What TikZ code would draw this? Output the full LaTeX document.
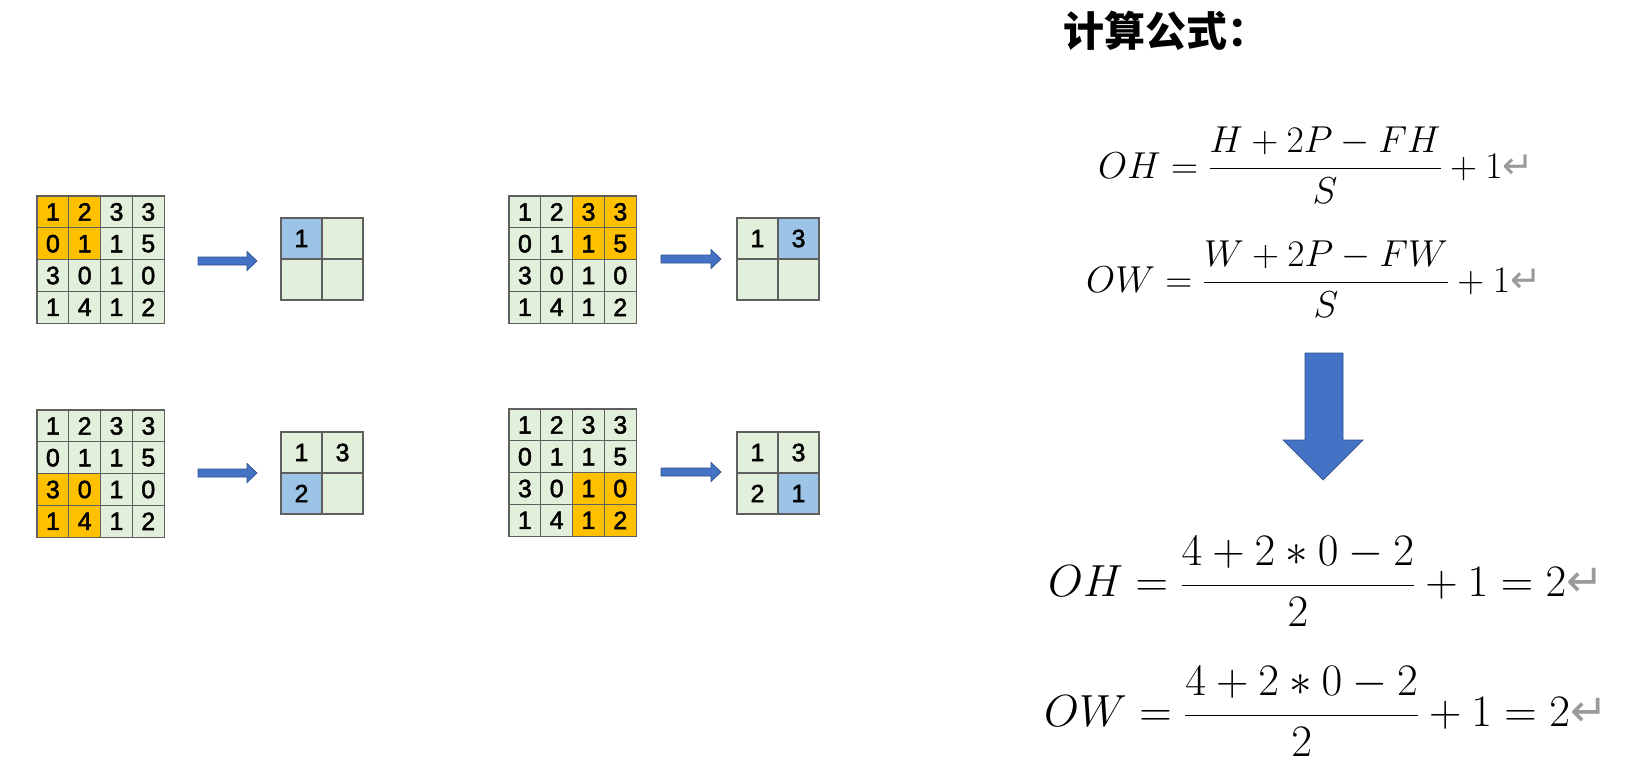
\RequirePackage{fix-cm}
\documentclass[tikz,border=0pt]{standalone}
\usepackage{fontspec}
\newfontfamily\numfont{Liberation Sans}[FakeBold=2]
\newfontfamily\cjk{Noto Sans CJK SC}
\newfontfamily\arrowfont{DejaVu Sans}
\definecolor{cellgreen}{HTML}{E2EFDA}
\definecolor{hlorange}{HTML}{FFC000}
\definecolor{cellblue}{HTML}{9DC3E6}
\definecolor{cellline}{HTML}{5F5F5F}
\definecolor{arrowblue}{HTML}{4472C4}
\definecolor{arrowedge}{HTML}{2F528F}
\definecolor{retgray}{HTML}{9A9A9A}
\tikzset{
  cell/.style={draw=cellline, line width=1.3pt, minimum size=#1, inner sep=0pt,
    font=\numfont\fontsize{25}{25}\selectfont, anchor=center},
  blockarrow/.style={fill=arrowblue, draw=arrowedge, line width=0.7pt},
  formula/.style={anchor=base west, inner sep=0pt}
}
\newcommand\retm{{\color{retgray}\arrowfont ↵}}
\newcommand\ingrid[5]{%
  \foreach \r/\vals in {1/{1,2,3,3},2/{0,1,1,5},3/{3,0,1,0},4/{1,4,1,2}}{
    \foreach \v [count=\c] in \vals {
      \pgfmathtruncatemacro\hl{(\r>#4)*(\r<#4+3)*(\c>#5)*(\c<#5+3)}
      \ifnum\hl=1 \def\fc{hlorange}\else\def\fc{cellgreen}\fi
      \node[cell=31.8pt, fill=\fc] (#1-\r-\c) at ({#2+(\c-0.5)*31.8},{#3+(\r-0.5)*31.8}) {\v};
    }
  }
}
\newcommand\outgrid[5]{%
  \foreach \v [count=\k] in {#4} {
    \pgfmathtruncatemacro\r{int((\k-1)/2)+1}
    \pgfmathtruncatemacro\c{mod(\k-1,2)+1}
    \ifnum\k=#5 \def\fc{cellblue}\else\def\fc{cellgreen}\fi
    \node[cell=41pt, fill=\fc] (#1-\r-\c) at ({#2+(\c-0.5)*41},{#3+(\r-0.5)*41}) {\v};
  }
}
\newcommand\smallarrow[3]{%
  \fill[blockarrow] (#1,#3-4) -- (#2-10,#3-4) -- (#2-10,#3-9.5) -- (#2,#3)
    -- (#2-10,#3+9.5) -- (#2-10,#3+4) -- (#1,#3+4) -- cycle;
}
\begin{document}
\begin{tikzpicture}[x=1pt,y=-1pt]
\fill[white] (0,0) rectangle (1648,781);
\useasboundingbox (0,0) rectangle (1648,781);

% input grids
\ingrid{A}{37}{196}{0}{0}
\ingrid{B}{509}{196}{0}{2}
\ingrid{C}{37}{410}{2}{0}
\ingrid{D}{509}{409}{2}{2}

% output grids
\outgrid{a}{281}{218}{1,{},{},{}}{1}
\outgrid{b}{737}{218}{1,3,{},{}}{2}
\outgrid{c}{281}{432}{1,3,2,{}}{3}
\outgrid{d}{737}{432}{1,3,2,1}{4}

% small arrows
\smallarrow{198}{257}{261}
\smallarrow{661}{721}{259}
\smallarrow{198}{257}{473}
\smallarrow{661}{721}{472}

% title
\node[anchor=base west, inner sep=0pt, font=\cjk\bfseries\fontsize{41}{41}\selectfont] (title) at (1063,47) {计算公式：};

% general formulas
\node[formula, font=\fontsize{37.5}{37.5}\selectfont] (f1) at (1098,178) {$\displaystyle OH=\frac{H+2P-FH}{S}+1$\retm};
\node[formula, font=\fontsize{37.5}{37.5}\selectfont] (f2) at (1086,292) {$\displaystyle OW=\frac{W+2P-FW}{S}+1$\retm};

% big arrow
\fill[blockarrow] (1305,353) -- (1343,353) -- (1343,440) -- (1363,440) -- (1323,480) -- (1283,440) -- (1305,440) -- cycle;

% numeric formulas
\node[formula, font=\fontsize{45}{45}\selectfont] (f3) at (1048,596) {$\displaystyle OH=\frac{4+2\ast0-2}{2}+1=2$\retm};
\node[formula, font=\fontsize{45}{45}\selectfont] (f4) at (1044,726) {$\displaystyle OW=\frac{4+2\ast0-2}{2}+1=2$\retm};
\end{tikzpicture}
\end{document}
